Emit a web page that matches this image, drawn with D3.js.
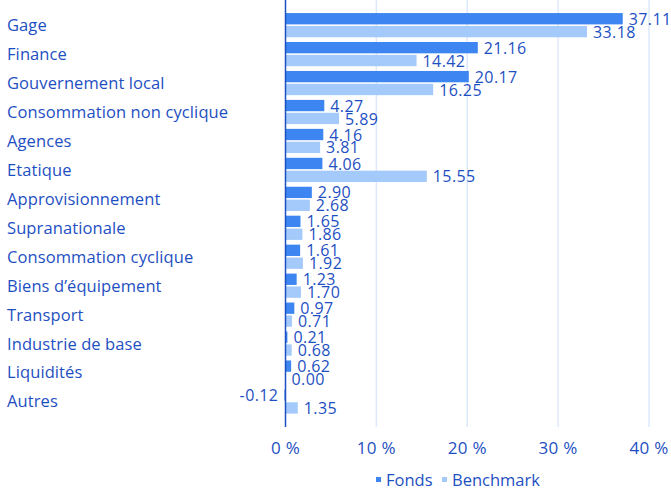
<!DOCTYPE html>
<html>
<head>
<meta charset="utf-8">
<script src="https://cdn.jsdelivr.net/npm/d3@7"></script>
<style>
  body { margin: 0; background: #ffffff; }
  text { font-family: "Open Sans", "Noto Sans", sans-serif; fill: #1e4fc2; }
</style>
</head>
<body>
<div id="chart"></div>
<script>
// chart data
let categories = ["Gage", "Finance", "Gouvernement local", "Consommation non cyclique",
                  "Agences", "Etatique", "Approvisionnement", "Supranationale",
                  "Consommation cyclique", "Biens d’équipement", "Transport",
                  "Industrie de base", "Liquidités", "Autres"];
let fonds = [37.11, 21.16, 20.17, 4.27, 4.16, 4.06, 2.90, 1.65, 1.61, 1.23, 0.97, 0.21, 0.62, -0.12];
let benchmark = [33.18, 14.42, 16.25, 5.89, 3.81, 15.55, 2.68, 1.86, 1.92, 1.70, 0.71, 0.68, 0.00, 1.35];
let series_names = ["Fonds", "Benchmark"];
let tick_values = [0, 10, 20, 30, 40];

let colors = {"Fonds": "#3d86f2", "Benchmark": "#a4c9fb"};

let width = 671;
let height = 494;

let svg = d3.select("#chart")
            .append("svg")
            .attr("width", width)
            .attr("height", height);

// Scales
let x = d3.scaleLinear()
          .domain([0, 40])
          .range([285.5, 649]);

let y = d3.scaleBand()
          .domain(categories)
          .range([0, 427])
          .paddingOuter(0.375)
          .paddingInner(0);

let y_inner = d3.scaleBand()
                .domain(series_names)
                .range([2.2, 26.4])
                .paddingInner(0.12);

// Gridlines
svg.append("g")
   .selectAll("line")
   .data(tick_values.slice(1))
   .enter().append("line")
   .attr("x1", d => x(d))
   .attr("x2", d => x(d))
   .attr("y1", 0)
   .attr("y2", 427)
   .attr("stroke", "#dde9fb")
   .attr("stroke-width", 1.5);

// Category labels
svg.append("g")
   .selectAll("text")
   .data(categories)
   .enter().append("text")
   .attr("x", 7)
   .attr("y", d => y(d) + y.bandwidth() / 2)
   .attr("dy", "0.35em")
   .attr("font-size", 16.5)
   .attr("letter-spacing", 0.1)
   .text(d => d);

// Bars and value labels
let rows = [];
categories.forEach(function(c, i) {
  rows.push({cat: c, series: "Fonds", value: fonds[i]});
  rows.push({cat: c, series: "Benchmark", value: benchmark[i]});
});

let bars = svg.append("g");

bars.selectAll("rect")
    .data(rows)
    .enter().append("rect")
    .attr("x", d => x(Math.min(0, d.value)))
    .attr("y", d => y(d.cat) + y_inner(d.series))
    .attr("width", d => Math.abs(x(d.value) - x(0)))
    .attr("height", y_inner.bandwidth())
    .attr("fill", d => colors[d.series]);

bars.selectAll("text")
    .data(rows)
    .enter().append("text")
    .attr("x", function(d) {
      return d.value < 0 ? x(d.value) - 6 : x(d.value) + 6;
    })
    .attr("y", d => y(d.cat) + y_inner(d.series) + y_inner.bandwidth() / 2)
    .attr("dy", "0.38em")
    .attr("text-anchor", d => d.value < 0 ? "end" : "start")
    .attr("font-size", 16)
    .attr("letter-spacing", 0.4)
    .text(d => d.value.toFixed(2));

// Zero axis line
svg.append("line")
   .attr("x1", x(0))
   .attr("x2", x(0))
   .attr("y1", 0)
   .attr("y2", 427)
   .attr("stroke", "#1e4fc2")
   .attr("stroke-width", 1.5);

// X axis tick labels
svg.append("g")
   .selectAll("text")
   .data(tick_values)
   .enter().append("text")
   .attr("x", d => x(d))
   .attr("y", 448)
   .attr("dy", "0.35em")
   .attr("text-anchor", "middle")
   .attr("font-size", 17)
   .attr("letter-spacing", 0.3)
   .text(d => d + " %");

// Legend
let legend = svg.append("g");
let legend_x = [376, 442];

series_names.forEach(function(s, i) {
  legend.append("rect")
        .attr("x", legend_x[i])
        .attr("y", 477)
        .attr("width", 5)
        .attr("height", 5)
        .attr("fill", colors[s]);
  legend.append("text")
        .attr("x", legend_x[i] + 10)
        .attr("y", 480)
        .attr("dy", "0.35em")
        .attr("font-size", 16.5)
        .text(s);
});
</script>
</body>
</html>
